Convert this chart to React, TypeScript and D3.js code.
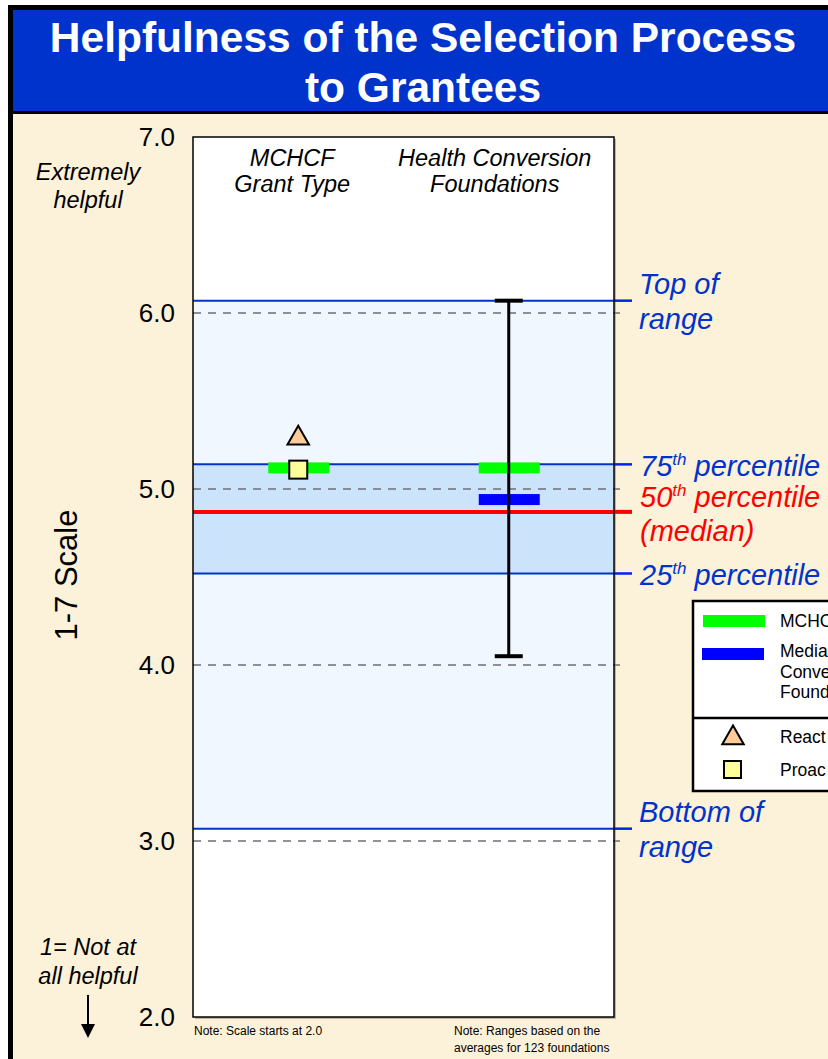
import React from "react";
import * as d3 from "d3";

const yTicks = [2, 3, 4, 5, 6, 7];
const gridTicks = [3, 4, 5, 6];
const columns = ["MCHCF Grant Type", "Health Conversion Foundations"];
const columnHeaders = [["MCHCF", "Grant Type"], ["Health Conversion", "Foundations"]];
const rangeTop = 6.07;
const rangeP75 = 5.14;
const rangeMedian = 4.87;
const rangeP25 = 4.52;
const rangeBottom = 3.07;
const mchcfMedian = [5.12, 5.12];
const hcfMedian = [null, 4.94];
const reactive = [5.3, null];
const proactive = [5.11, null];
const whiskerLow = [null, 4.05];
const whiskerHigh = [null, 6.07];

const W = 828, H = 1059;
const F = "'Liberation Sans', Arial, sans-serif";
const FN = "'Liberation Sans Narrow', 'Liberation Sans', Arial, sans-serif";

export default function App() {
  const y = d3.scaleLinear().domain([2, 7]).range([1017, 137]);
  const x = d3.scaleBand().domain(columns).range([193, 614]);
  const cx = (i: number) => (x(columns[i]) as number) + x.bandwidth() / 2;
  const L = 193, R = 614;
  const blue = "#0033cc";
  const tri = d3.symbol().type(d3.symbolTriangle).size(200);

  const annot = (yy: number, color: string) => (
    <line x1={R} x2={632} y1={yy} y2={yy} stroke={color} strokeWidth={color === "red" ? 4 : 2.5} />
  );

  return (
    <svg width={W} height={H} style={{ position: "absolute", left: 0, top: 0 }} fontFamily={F}>
      <rect x={0} y={0} width={W} height={H} fill="#fff" />
      <rect x={10.5} y={7.5} width={W + 10} height={H + 10} fill="#fcf1d9" stroke="#000" strokeWidth={5} />
      <rect x={13} y={10} width={W} height={101} fill="#0033cc" />
      <line x1={13} x2={W} y1={112.5} y2={112.5} stroke="#000" strokeWidth={3} />
      <text x={423} y={52} textAnchor="middle" fill="#fff" fontWeight="bold" fontSize={42.5}>Helpfulness of the Selection Process</text>
      <text x={423} y={102} textAnchor="middle" fill="#fff" fontWeight="bold" fontSize={42.5}>to Grantees</text>

      {/* plot box */}
      <rect x={L + 2} y={y(7) + 2} width={R - L} height={y(2) - y(7)} fill="#9a8f7a" opacity={0.6} />
      <rect x={L} y={y(7)} width={R - L} height={y(2) - y(7)} fill="#fff" />
      <rect x={L} y={y(rangeTop)} width={R - L} height={y(rangeBottom) - y(rangeTop)} fill="#f1f7ff" />
      <rect x={L} y={y(rangeP75)} width={R - L} height={y(rangeP25) - y(rangeP75)} fill="#cce4fb" />
      {gridTicks.map((t) => (
        <line key={t} x1={L} x2={620} y1={y(t)} y2={y(t)} stroke="#6e6e78" strokeWidth={1.5} strokeDasharray="8,7" />
      ))}
      {[rangeTop, rangeP75, rangeP25, rangeBottom].map((v, i) => (
        <g key={i}>
          <line x1={L} x2={R} y1={y(v)} y2={y(v)} stroke={blue} strokeWidth={2} />
          {annot(y(v), "#0022ee")}
        </g>
      ))}
      <line x1={L} x2={R} y1={y(rangeMedian)} y2={y(rangeMedian)} stroke="#ff0000" strokeWidth={4} />
      {annot(y(rangeMedian), "red")}
      <rect x={L} y={y(7)} width={R - L} height={y(2) - y(7)} fill="none" stroke="#000" strokeWidth={1.5} />

      {/* marks */}
      {columns.map((c, i) => (
        <g key={c}>
          {mchcfMedian[i] != null && (
            <rect x={cx(i) - 30} y={y(mchcfMedian[i] as number) - 5.5} width={61} height={11} fill="#00ff00" />
          )}
          {hcfMedian[i] != null && (
            <rect x={cx(i) - 30} y={y(hcfMedian[i] as number) - 5.5} width={61} height={11} fill="#0000ff" />
          )}
          {whiskerLow[i] != null && (
            <g stroke="#000">
              <line x1={cx(i)} x2={cx(i)} y1={y(whiskerLow[i] as number)} y2={y(whiskerHigh[i] as number)} strokeWidth={3} />
              <line x1={cx(i) - 14} x2={cx(i) + 14} y1={y(whiskerHigh[i] as number)} y2={y(whiskerHigh[i] as number)} strokeWidth={4} />
              <line x1={cx(i) - 14} x2={cx(i) + 14} y1={y(whiskerLow[i] as number)} y2={y(whiskerLow[i] as number)} strokeWidth={4} />
            </g>
          )}
          {reactive[i] != null && (
            <path d={tri() as string} transform={`translate(${cx(i)},${y(reactive[i] as number) + 2})`} fill="#ffcc99" stroke="#000" strokeWidth={2} />
          )}
          {proactive[i] != null && (
            <rect x={cx(i) - 9} y={y(proactive[i] as number) - 9} width={18} height={18} fill="#ffff99" stroke="#000" strokeWidth={2} />
          )}
          <text textAnchor="middle" fontStyle="italic" fontSize={23.5} fill="#000">
            {columnHeaders[i].map((s, k) => (
              <tspan key={k} x={cx(i) - (i === 0 ? 6 : 14)} y={166 + k * 26}>{s}</tspan>
            ))}
          </text>
        </g>
      ))}

      {/* y axis labels */}
      {yTicks.map((t) => (
        <text key={t} x={175} y={y(t) + 9} textAnchor="end" fontSize={26} fill="#000">{t.toFixed(1)}</text>
      ))}
      <text transform="translate(77,575) rotate(-90)" textAnchor="middle" fontSize={31} fill="#000">1-7 Scale</text>
      <text textAnchor="middle" fontStyle="italic" fontSize={23.5} fill="#000">
        <tspan x={88} y={180}>Extremely</tspan>
        <tspan x={88} y={208}>helpful</tspan>
        <tspan x={88} y={955}>1= Not at</tspan>
        <tspan x={88} y={984}>all helpful</tspan>
      </text>
      <line x1={88} x2={88} y1={995} y2={1025} stroke="#000" strokeWidth={2} />
      <path d="M81,1024 L95,1024 L88,1038 Z" fill="#000" />

      {/* right annotations */}
      <g fontStyle="italic" fontSize={29}>
        <text fill="#0033cc"><tspan x={639} y={294}>Top of</tspan><tspan x={639} y={329}>range</tspan></text>
        <text fill="#0033cc" x={640} y={476}>75<tspan fontSize={17} dy={-11}>th</tspan><tspan dy={11}> percentile</tspan></text>
        <text fill="#ff0000" x={640} y={507}>50<tspan fontSize={17} dy={-11}>th</tspan><tspan dy={11}> percentile</tspan></text>
        <text fill="#ff0000" x={640} y={541}>(median)</text>
        <text fill="#0033cc" x={640} y={585}>25<tspan fontSize={17} dy={-11}>th</tspan><tspan dy={11}> percentile</tspan></text>
        <text fill="#0033cc"><tspan x={639} y={822}>Bottom of</tspan><tspan x={639} y={857}>range</tspan></text>
      </g>

      {/* legend */}
      <rect x={693} y={601} width={160} height={190} fill="#fff" stroke="#000" strokeWidth={2.5} />
      <line x1={693} x2={W} y1={718} y2={718} stroke="#000" strokeWidth={2.5} />
      <rect x={703} y={615} width={62} height={12} fill="#00ff00" />
      <rect x={702} y={648} width={62} height={12} fill="#0000ff" />
      <g fontSize={17.5} fill="#000">
        <text x={780} y={627}>MCHCF</text>
        <text><tspan x={780} y={657}>Median</tspan><tspan x={780} y={678}>Conve</tspan><tspan x={780} y={698}>Found</tspan></text>
        <text x={780} y={743}>React</text>
        <text x={780} y={776}>Proac</text>
      </g>
      <path d={tri() as string} transform="translate(733,738)" fill="#ffcc99" stroke="#000" strokeWidth={2} />
      <rect x={724} y={761} width={17} height={17} fill="#ffff99" stroke="#000" strokeWidth={2} />

      {/* notes */}
      <g fontFamily={FN} fontSize={12} fill="#000">
        <text x={194} y={1035}>Note: Scale starts at 2.0</text>
        <text><tspan x={454} y={1035}>Note: Ranges based on the</tspan><tspan x={454} y={1052}>averages for 123 foundations</tspan></text>
      </g>
    </svg>
  );
}
